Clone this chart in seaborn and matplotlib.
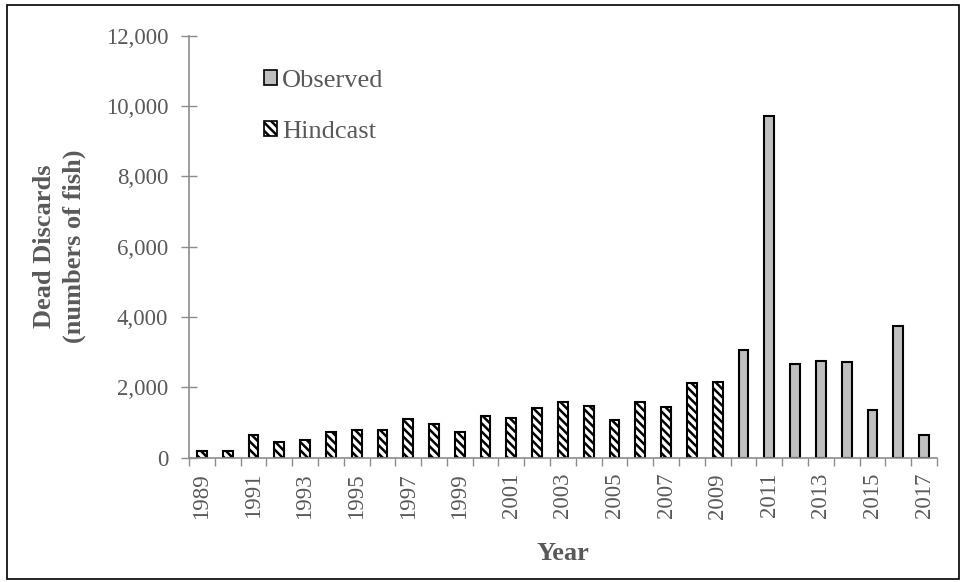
import numpy as np
import pandas as pd
import matplotlib
matplotlib.use("Agg")
import matplotlib.pyplot as plt
import seaborn as sns
from matplotlib.patches import Patch, Rectangle

years = list(range(1989, 2018))
hindcast = [200, 200, 650, 450, 490, 720, 800, 800, 1090, 950,
            720, 1185, 1140, 1400, 1590, 1475, 1070, 1570, 1430, 2120, 2165]
observed = [3065, 9720, 2660, 2750, 2710, 1350, 3750, 650]

df = pd.DataFrame({
    "Year": [str(y) for y in years],
    "Discards": hindcast + observed,
    "Series": ["Hindcast"] * len(hindcast) + ["Observed"] * len(observed),
})

TEXT = "#595959"
AXIS = "#8c8c8c"
OBS_COLOR = "#bfbfbf"

sns.set_style("white")
plt.rcParams["font.family"] = ["Liberation Serif", "DejaVu Serif"]
plt.rcParams["hatch.linewidth"] = 1.8

fig = plt.figure(figsize=(9.64, 5.82), dpi=100)
ax = fig.add_axes([0.196, 0.2136, 0.776, 0.725])

sns.barplot(data=df, x="Year", y="Discards", hue="Series",
            hue_order=["Observed", "Hindcast"],
            palette={"Observed": OBS_COLOR, "Hindcast": "white"},
            dodge=False, width=0.38, edgecolor="black", linewidth=1.5,
            legend=False, ax=ax)

# hatch the hindcast bars
for bar in ax.containers[1]:
    bar.set_hatch("\\\\\\\\")

ax.set_ylim(0, 12000)
ax.set_xlim(-0.5, len(years) - 0.5)
ax.set_yticks(np.arange(0, 12001, 2000))
ax.set_yticklabels([f"{v:,}" for v in range(0, 12001, 2000)])

# ticks at category boundaries, labels every other year
ax.set_xticks(np.arange(-0.5, len(years), 1.0))
ax.set_xticklabels([])
ax.set_xticks(np.arange(0, len(years), 2), minor=True)
ax.set_xticklabels([str(y) for y in years[::2]], minor=True, rotation=90)
ax.tick_params(axis="x", which="major", direction="out", length=6,
               width=1, color=AXIS, bottom=True)
ax.tick_params(axis="x", which="minor", length=0, pad=11,
               labelsize=16.5, labelcolor=TEXT, bottom=True)
ax.tick_params(axis="y", direction="inout", length=12, width=1,
               color=AXIS, left=True, pad=9, labelsize=16.5, labelcolor=TEXT)

for side in ["top", "right"]:
    ax.spines[side].set_visible(False)
for side in ["left", "bottom"]:
    ax.spines[side].set_color(AXIS)
    ax.spines[side].set_linewidth(1.2)

ax.set_ylabel("Dead Discards\n(numbers of fish)", fontsize=19,
              fontweight="bold", color=TEXT, linespacing=1.4)
ax.yaxis.set_label_coords(-0.137, 0.5)
ax.set_xlabel("Year", fontsize=19, fontweight="bold", color=TEXT)
ax.xaxis.set_label_coords(0.5, -0.2)

handles = [Patch(facecolor=OBS_COLOR, edgecolor="black", linewidth=1.2, label="Observed"),
           Patch(facecolor="white", edgecolor="black", linewidth=1.2, hatch="\\\\\\\\", label="Hindcast")]
leg = ax.legend(handles=handles, loc="upper left", bbox_to_anchor=(0.068, 0.975),
                frameon=False, fontsize=19, handlelength=0.5, handleheight=0.5,
                handletextpad=0.2, labelspacing=1.1)
for t in leg.get_texts():
    t.set_color(TEXT)

fig.patches.append(Rectangle((0.007, 0.005), 0.988, 0.987, transform=fig.transFigure,
                             fill=False, edgecolor="black", linewidth=1.2))

fig.savefig("out.png", dpi=100)
